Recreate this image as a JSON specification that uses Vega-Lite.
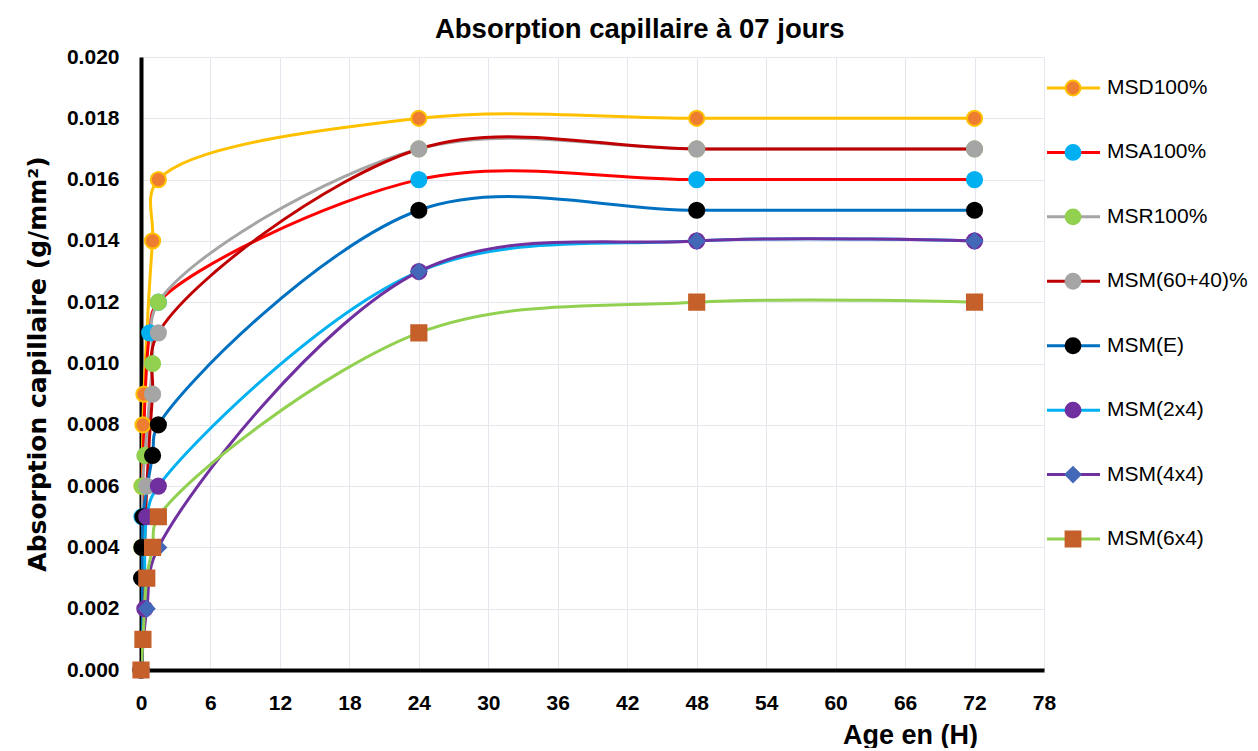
{
  "$schema": "https://vega.github.io/schema/vega-lite/v6.json",
  "padding": {"left": 25, "top": 15, "right": 0, "bottom": 0},
  "autosize": {"type": "pad"},
  "spacing": 0,
  "bounds": "flush",
  "title": {"text": "Absorption capillaire à 07 jours", "font": "Liberation Sans", "fontSize": 27.5, "fontWeight": "bold", "color": "#000000", "anchor": "middle", "offset": 3},
  "config": {"font": "Liberation Sans", "view": {"stroke": null}},
  "datasets": {
    "points": [
      {"series": "MSD100%", "t": 0, "v": 0},
      {"series": "MSD100%", "t": 0.083, "v": 0.006},
      {"series": "MSD100%", "t": 0.167, "v": 0.008},
      {"series": "MSD100%", "t": 0.25, "v": 0.009},
      {"series": "MSD100%", "t": 1, "v": 0.014},
      {"series": "MSD100%", "t": 1.5, "v": 0.016},
      {"series": "MSD100%", "t": 24, "v": 0.018},
      {"series": "MSD100%", "t": 48, "v": 0.018},
      {"series": "MSD100%", "t": 72, "v": 0.018},
      {"series": "MSA100%", "t": 0, "v": 0},
      {"series": "MSA100%", "t": 0.083, "v": 0.005},
      {"series": "MSA100%", "t": 0.75, "v": 0.011},
      {"series": "MSA100%", "t": 1.5, "v": 0.012},
      {"series": "MSA100%", "t": 24, "v": 0.016},
      {"series": "MSA100%", "t": 48, "v": 0.016},
      {"series": "MSA100%", "t": 72, "v": 0.016},
      {"series": "MSR100%", "t": 0, "v": 0},
      {"series": "MSR100%", "t": 0.05, "v": 0.004},
      {"series": "MSR100%", "t": 0.1, "v": 0.006},
      {"series": "MSR100%", "t": 0.33, "v": 0.007},
      {"series": "MSR100%", "t": 1, "v": 0.010},
      {"series": "MSR100%", "t": 1.5, "v": 0.012},
      {"series": "MSR100%", "t": 24, "v": 0.017},
      {"series": "MSR100%", "t": 48, "v": 0.017},
      {"series": "MSR100%", "t": 72, "v": 0.017},
      {"series": "MSM(60+40)%", "t": 0, "v": 0},
      {"series": "MSM(60+40)%", "t": 0.5, "v": 0.006},
      {"series": "MSM(60+40)%", "t": 1, "v": 0.009},
      {"series": "MSM(60+40)%", "t": 1.5, "v": 0.011},
      {"series": "MSM(60+40)%", "t": 24, "v": 0.017},
      {"series": "MSM(60+40)%", "t": 48, "v": 0.017},
      {"series": "MSM(60+40)%", "t": 72, "v": 0.017},
      {"series": "MSM(E)", "t": 0, "v": 0},
      {"series": "MSM(E)", "t": 0.05, "v": 0.003},
      {"series": "MSM(E)", "t": 0.083, "v": 0.004},
      {"series": "MSM(E)", "t": 0.17, "v": 0.005},
      {"series": "MSM(E)", "t": 1, "v": 0.007},
      {"series": "MSM(E)", "t": 1.5, "v": 0.008},
      {"series": "MSM(E)", "t": 24, "v": 0.015},
      {"series": "MSM(E)", "t": 48, "v": 0.015},
      {"series": "MSM(E)", "t": 72, "v": 0.015},
      {"series": "MSM(2x4)", "t": 0, "v": 0},
      {"series": "MSM(2x4)", "t": 0.33, "v": 0.002},
      {"series": "MSM(2x4)", "t": 0.5, "v": 0.005},
      {"series": "MSM(2x4)", "t": 1.5, "v": 0.006},
      {"series": "MSM(2x4)", "t": 24, "v": 0.013},
      {"series": "MSM(2x4)", "t": 48, "v": 0.014},
      {"series": "MSM(2x4)", "t": 72, "v": 0.014},
      {"series": "MSM(4x4)", "t": 0, "v": 0},
      {"series": "MSM(4x4)", "t": 0.5, "v": 0.002},
      {"series": "MSM(4x4)", "t": 1.5, "v": 0.004},
      {"series": "MSM(4x4)", "t": 24, "v": 0.013},
      {"series": "MSM(4x4)", "t": 48, "v": 0.014},
      {"series": "MSM(4x4)", "t": 72, "v": 0.014},
      {"series": "MSM(6x4)", "t": 0, "v": 0},
      {"series": "MSM(6x4)", "t": 0.167, "v": 0.001},
      {"series": "MSM(6x4)", "t": 0.5, "v": 0.003},
      {"series": "MSM(6x4)", "t": 1, "v": 0.004},
      {"series": "MSM(6x4)", "t": 1.5, "v": 0.005},
      {"series": "MSM(6x4)", "t": 24, "v": 0.011},
      {"series": "MSM(6x4)", "t": 48, "v": 0.012},
      {"series": "MSM(6x4)", "t": 72, "v": 0.012}
    ],
    "legend": [
      {"series": "MSD100%"},
      {"series": "MSA100%"},
      {"series": "MSR100%"},
      {"series": "MSM(60+40)%"},
      {"series": "MSM(E)"},
      {"series": "MSM(2x4)"},
      {"series": "MSM(4x4)"},
      {"series": "MSM(6x4)"}
    ]
  },
  "hconcat": [
    {
      "width": 903,
      "height": 613,
      "data": {"name": "points"},
      "encoding": {
        "x": {"field": "t", "type": "quantitative",
          "scale": {"domain": [0, 78], "nice": false, "zero": true},
          "axis": {"values": [0, 6, 12, 18, 24, 30, 36, 42, 48, 54, 60, 66, 72, 78], "title": "Age en (H)",
            "grid": true, "gridColor": "#E6E6EE", "gridWidth": 1, "domainColor": "#000000", "domainWidth": 4,
            "ticks": false, "labelFont": "Liberation Sans", "labelFontWeight": "bold", "labelFontSize": 21, "labelColor": "#000000",
            "labelPadding": 22, "labelFlush": false,
            "titleFont": "Liberation Sans", "titleFontSize": 27, "titleFontWeight": "bold", "titleColor": "#000000",
            "titleX": 769, "titleY": 65, "titleAlign": "center", "titleBaseline": "middle"}},
        "y": {"field": "v", "type": "quantitative",
          "scale": {"domain": [0, 0.02], "nice": false},
          "axis": {"values": [0, 0.002, 0.004, 0.006, 0.008, 0.01, 0.012, 0.014, 0.016, 0.018, 0.02], "format": ".3f",
            "title": "Absorption capillaire (g/mm²)",
            "grid": true, "gridColor": "#E6E6EE", "gridWidth": 1, "domainColor": "#000000", "domainWidth": 4,
            "ticks": false, "labelFont": "Liberation Sans", "labelFontWeight": "bold", "labelFontSize": 21, "labelColor": "#000000",
            "labelPadding": 22, "labelFlush": false,
            "titleFont": "DejaVu Sans", "titleFontSize": 25, "titleFontWeight": "bold", "titleColor": "#000000", "titlePadding": 16}}
      },
      "layer": [
        {
          "mark": {"type": "line", "interpolate": "catmull-rom", "strokeWidth": 3, "clip": true},
          "encoding": {
            "color": {"field": "series", "type": "nominal", "legend": null,
              "scale": {"domain": ["MSD100%", "MSA100%", "MSR100%", "MSM(60+40)%", "MSM(E)", "MSM(2x4)", "MSM(4x4)", "MSM(6x4)"],
                "range": ["#FFC000", "#FF0000", "#A5A5A5", "#C00000", "#0070C0", "#00B0F0", "#7030A0", "#92D050"]}}
          }
        },
        {
          "mark": {"type": "point", "filled": true, "opacity": 1, "size": 230, "strokeWidth": 2},
          "encoding": {
            "fill": {"field": "series", "type": "nominal", "legend": null,
              "scale": {"domain": ["MSD100%", "MSA100%", "MSR100%", "MSM(60+40)%", "MSM(E)", "MSM(2x4)", "MSM(4x4)", "MSM(6x4)"],
                "range": ["#ED7D31", "#00B0F0", "#92D050", "#A5A5A5", "#000000", "#7030A0", "#4468B8", "#C5602A"]}},
            "stroke": {"field": "series", "type": "nominal", "legend": null,
              "scale": {"domain": ["MSD100%", "MSA100%", "MSR100%", "MSM(60+40)%", "MSM(E)", "MSM(2x4)", "MSM(4x4)", "MSM(6x4)"],
                "range": ["#FFC000", "#00B0F0", "#92D050", "#A5A5A5", "#000000", "#7030A0", "#4468B8", "#C5602A"]}},
            "shape": {"field": "series", "type": "nominal", "legend": null,
              "scale": {"domain": ["MSD100%", "MSA100%", "MSR100%", "MSM(60+40)%", "MSM(E)", "MSM(2x4)", "MSM(4x4)", "MSM(6x4)"],
                "range": ["circle", "circle", "circle", "circle", "circle", "circle", "diamond", "square"]}}
          }
        }
      ]
    },
    {
      "width": 210,
      "height": 613,
      "data": {"name": "legend"},
      "encoding": {
        "y": {"field": "series", "type": "nominal", "axis": null,
          "sort": ["MSD100%", "MSA100%", "MSR100%", "MSM(60+40)%", "MSM(E)", "MSM(2x4)", "MSM(4x4)", "MSM(6x4)"],
          "scale": {"type": "point", "range": [31, 482], "padding": 0}}
      },
      "layer": [
        {
          "mark": {"type": "rule", "strokeWidth": 3},
          "encoding": {
            "x": {"datum": 3, "type": "quantitative", "scale": {"domain": [0, 210], "nice": false, "zero": false}, "axis": null},
            "x2": {"datum": 56},
            "color": {"field": "series", "type": "nominal", "legend": null,
              "scale": {"domain": ["MSD100%", "MSA100%", "MSR100%", "MSM(60+40)%", "MSM(E)", "MSM(2x4)", "MSM(4x4)", "MSM(6x4)"],
                "range": ["#FFC000", "#FF0000", "#A5A5A5", "#C00000", "#0070C0", "#00B0F0", "#7030A0", "#92D050"]}}
          }
        },
        {
          "mark": {"type": "point", "filled": true, "opacity": 1, "size": 220, "strokeWidth": 2},
          "encoding": {
            "x": {"datum": 29, "type": "quantitative"},
            "fill": {"field": "series", "type": "nominal", "legend": null,
              "scale": {"domain": ["MSD100%", "MSA100%", "MSR100%", "MSM(60+40)%", "MSM(E)", "MSM(2x4)", "MSM(4x4)", "MSM(6x4)"],
                "range": ["#ED7D31", "#00B0F0", "#92D050", "#A5A5A5", "#000000", "#7030A0", "#4468B8", "#C5602A"]}},
            "stroke": {"field": "series", "type": "nominal", "legend": null,
              "scale": {"domain": ["MSD100%", "MSA100%", "MSR100%", "MSM(60+40)%", "MSM(E)", "MSM(2x4)", "MSM(4x4)", "MSM(6x4)"],
                "range": ["#FFC000", "#00B0F0", "#92D050", "#A5A5A5", "#000000", "#7030A0", "#4468B8", "#C5602A"]}},
            "shape": {"field": "series", "type": "nominal", "legend": null,
              "scale": {"domain": ["MSD100%", "MSA100%", "MSR100%", "MSM(60+40)%", "MSM(E)", "MSM(2x4)", "MSM(4x4)", "MSM(6x4)"],
                "range": ["circle", "circle", "circle", "circle", "circle", "circle", "diamond", "square"]}}
          }
        },
        {
          "mark": {"type": "text", "align": "left", "baseline": "middle", "font": "Liberation Sans", "fontSize": 21, "color": "#000000"},
          "encoding": {
            "x": {"datum": 63, "type": "quantitative"},
            "text": {"field": "series", "type": "nominal"}
          }
        }
      ]
    }
  ]
}
